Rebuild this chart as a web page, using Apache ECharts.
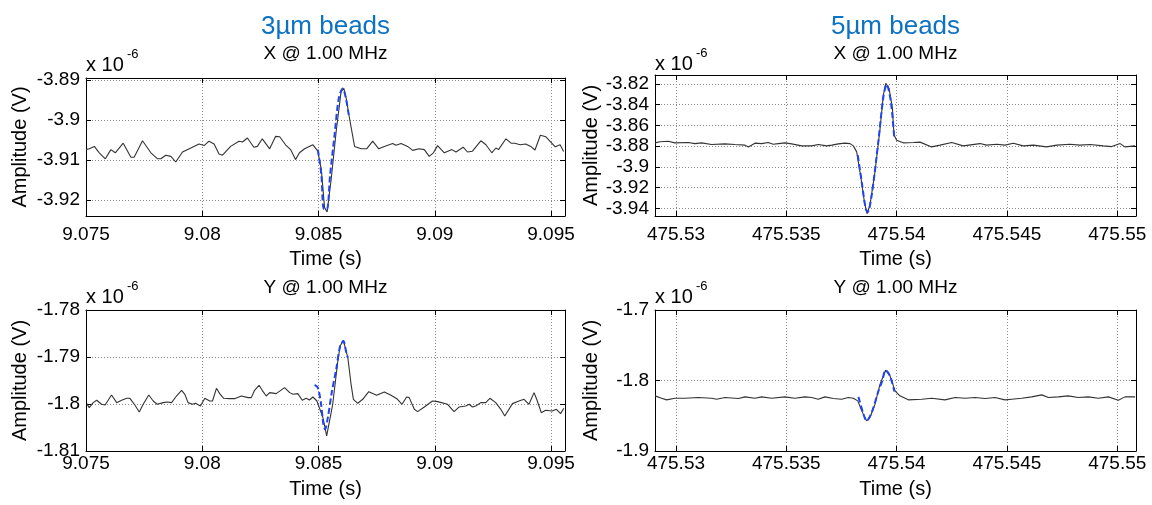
<!DOCTYPE html>
<html>
<head>
<meta charset="utf-8">
<script src="https://cdn.jsdelivr.net/npm/echarts@6/dist/echarts.min.js"></script>
<style>html,body{margin:0;padding:0;background:#fff;}#c{width:1152px;height:505px;}</style>
</head>
<body>
<div id="c"></div>
<script>
// ---- tick labels ----
const xTicks3um = [9.075, 9.08, 9.085, 9.09, 9.095];
const xTicks5um = [475.53, 475.535, 475.54, 475.545, 475.55];
const yTicksX3um = [-3.92, -3.91, -3.9, -3.89];
const yTicksX5um = [-3.94, -3.92, -3.9, -3.88, -3.86, -3.84, -3.82];
const yTicksY3um = [-1.81, -1.8, -1.79, -1.78];
const yTicksY5um = [-1.9, -1.8, -1.7];

// ---- data (amplitude in units of 1e-6 V, time in s) ----
const x3umSignal = [[9.0750,-3.9074],[9.07514,-3.9072],[9.07536,-3.9066],[9.07557,-3.9082],[9.07583,-3.9097],[9.07607,-3.9074],[9.07626,-3.9082],[9.07660,-3.9058],[9.07693,-3.9093],[9.07707,-3.9093],[9.07743,-3.9052],[9.07779,-3.9082],[9.07808,-3.9097],[9.07822,-3.9097],[9.07843,-3.9088],[9.07865,-3.9091],[9.07886,-3.9105],[9.07915,-3.9080],[9.07951,-3.9070],[9.07986,-3.9060],[9.08008,-3.9064],[9.08029,-3.9053],[9.08051,-3.9060],[9.08072,-3.9085],[9.08087,-3.9088],[9.08122,-3.9066],[9.08158,-3.9053],[9.08173,-3.9055],[9.08194,-3.9045],[9.08222,-3.9068],[9.08237,-3.9066],[9.08258,-3.9047],[9.08290,-3.9072],[9.08315,-3.9041],[9.08333,-3.9042],[9.08358,-3.9062],[9.08380,-3.9074],[9.08401,-3.9099],[9.08418,-3.9082],[9.08440,-3.9072],[9.08476,-3.9062],[9.08497,-3.9078],[9.08512,-3.9124],[9.08526,-3.9219],[9.08537,-3.9230],[9.08555,-3.9145],[9.08576,-3.9028],[9.08597,-3.8929],[9.08609,-3.8921],[9.08619,-3.8946],[9.08633,-3.8995],[9.08655,-3.9066],[9.08683,-3.9072],[9.08707,-3.9072],[9.08733,-3.9053],[9.08759,-3.9072],[9.08783,-3.9066],[9.08819,-3.9059],[9.08833,-3.9063],[9.08855,-3.9059],[9.08883,-3.9066],[9.08905,-3.9076],[9.08933,-3.9072],[9.08955,-3.9074],[9.08976,-3.9091],[9.08994,-3.9082],[9.09012,-3.9064],[9.09041,-3.9082],[9.09074,-3.9074],[9.09091,-3.9080],[9.09122,-3.9068],[9.09141,-3.9080],[9.09162,-3.9078],[9.09198,-3.9052],[9.09220,-3.9062],[9.09245,-3.9082],[9.09263,-3.9070],[9.09274,-3.9074],[9.09306,-3.9047],[9.09328,-3.9058],[9.09344,-3.9058],[9.09367,-3.9062],[9.09391,-3.9060],[9.09415,-3.9067],[9.09431,-3.9075],[9.09454,-3.9038],[9.09478,-3.9042],[9.09497,-3.9054],[9.09518,-3.9067],[9.09539,-3.9062],[9.09554,-3.9079]];
const x3umFit = [[9.08497,-3.9074],[9.08512,-3.9136],[9.08523,-3.9223],[9.08536,-3.9223],[9.08550,-3.9136],[9.08569,-3.9037],[9.08587,-3.8946],[9.08604,-3.8921],[9.08616,-3.8941],[9.08630,-3.8987]];

const x5umSignal = [[475.52905,-3.8768],[475.52927,-3.8758],[475.52965,-3.8752],[475.52995,-3.8768],[475.53056,-3.8765],[475.53086,-3.8775],[475.53116,-3.8768],[475.53162,-3.8784],[475.53222,-3.8778],[475.53267,-3.8784],[475.53313,-3.8790],[475.53328,-3.8807],[475.53358,-3.8771],[475.53388,-3.8775],[475.53418,-3.8765],[475.53441,-3.8781],[475.53464,-3.8775],[475.53494,-3.8768],[475.53524,-3.8778],[475.53570,-3.8797],[475.53615,-3.8797],[475.53645,-3.8784],[475.53683,-3.8797],[475.53706,-3.8790],[475.53736,-3.8778],[475.53766,-3.8771],[475.53789,-3.8775],[475.53804,-3.8797],[475.53819,-3.8855],[475.53839,-3.9114],[475.53854,-3.9339],[475.53866,-3.9452],[475.53879,-3.9371],[475.53902,-3.9049],[475.53925,-3.8630],[475.53940,-3.8306],[475.53951,-3.8194],[475.53966,-3.8243],[475.53981,-3.8436],[475.53988,-3.8690],[475.54000,-3.8742],[475.54030,-3.8768],[475.54076,-3.8765],[475.54106,-3.8761],[475.54159,-3.8807],[475.54197,-3.8790],[475.54250,-3.8765],[475.54302,-3.8797],[475.54378,-3.8775],[475.54408,-3.8790],[475.54454,-3.8781],[475.54491,-3.8790],[475.54529,-3.8771],[475.54574,-3.8797],[475.54620,-3.8790],[475.54680,-3.8807],[475.54726,-3.8790],[475.54786,-3.8781],[475.54831,-3.8790],[475.54877,-3.8784],[475.54937,-3.8797],[475.54975,-3.8804],[475.55013,-3.8775],[475.55035,-3.8807],[475.55081,-3.8797]];
const x5umFit = [[475.53824,-3.8887],[475.53842,-3.9146],[475.53860,-3.9404],[475.53869,-3.9436],[475.53887,-3.9274],[475.53917,-3.8758],[475.53940,-3.8323],[475.53955,-3.8204],[475.53974,-3.8371],[475.53989,-3.8710]];

const y3umSignal = [[9.07503,-1.79992],[9.07514,-1.80077],[9.07531,-1.79971],[9.07546,-1.79921],[9.07567,-1.80006],[9.07582,-1.80021],[9.07610,-1.79809],[9.07632,-1.79971],[9.07653,-1.79921],[9.07675,-1.79879],[9.07689,-1.79879],[9.07710,-1.80021],[9.07729,-1.80170],[9.07746,-1.80006],[9.07770,-1.79809],[9.07789,-1.79936],[9.07806,-1.80006],[9.07832,-1.79971],[9.07849,-1.79957],[9.07868,-1.79971],[9.07889,-1.79830],[9.07911,-1.79709],[9.07925,-1.79794],[9.07939,-1.79971],[9.07958,-1.80006],[9.07971,-1.79985],[9.07992,-1.80043],[9.08011,-1.79879],[9.08032,-1.79936],[9.08044,-1.79936],[9.08061,-1.79666],[9.08075,-1.79779],[9.08092,-1.79879],[9.08118,-1.79886],[9.08139,-1.79886],[9.08168,-1.79830],[9.08197,-1.79864],[9.08211,-1.79864],[9.08225,-1.79709],[9.08244,-1.79602],[9.08258,-1.79709],[9.08275,-1.79830],[9.08290,-1.79758],[9.08318,-1.79779],[9.08354,-1.79651],[9.08376,-1.79758],[9.08390,-1.79794],[9.08411,-1.79779],[9.08430,-1.79921],[9.08447,-1.79879],[9.08461,-1.79915],[9.08476,-1.79851],[9.08493,-1.79936],[9.08519,-1.80290],[9.08535,-1.80680],[9.08561,-1.80006],[9.08583,-1.79084],[9.08593,-1.78765],[9.08607,-1.78645],[9.08626,-1.79013],[9.08640,-1.79581],[9.08650,-1.79900],[9.08669,-1.79985],[9.08690,-1.79900],[9.08716,-1.79737],[9.08750,-1.79815],[9.08783,-1.79744],[9.08812,-1.79815],[9.08840,-1.79900],[9.08859,-1.80006],[9.08879,-1.79850],[9.08890,-1.79864],[9.08912,-1.80113],[9.08926,-1.80162],[9.08955,-1.80063],[9.08990,-1.79936],[9.09012,-1.79950],[9.09055,-1.80006],[9.09083,-1.80162],[9.09105,-1.80063],[9.09133,-1.80043],[9.09148,-1.80006],[9.09162,-1.80063],[9.09176,-1.80043],[9.09198,-1.79971],[9.09219,-1.79971],[9.09237,-1.79879],[9.09262,-1.79971],[9.09284,-1.80113],[9.09301,-1.80255],[9.09334,-1.79992],[9.09362,-1.79936],[9.09384,-1.79900],[9.09405,-1.80006],[9.09427,-1.79758],[9.09441,-1.79936],[9.09458,-1.80184],[9.09477,-1.80134],[9.09505,-1.80148],[9.09523,-1.80113],[9.09541,-1.80205],[9.09555,-1.80092]];
const y3umFit = [[9.08483,-1.79595],[9.08497,-1.79651],[9.08511,-1.80006],[9.08520,-1.80400],[9.08528,-1.80540],[9.08540,-1.80290],[9.08558,-1.79723],[9.08576,-1.79262],[9.08593,-1.78765],[9.08607,-1.78659],[9.08618,-1.78872],[9.08626,-1.79013]];

const y5umSignal = [[475.52905,-1.82180],[475.52935,-1.82511],[475.52958,-1.82747],[475.52995,-1.82511],[475.53041,-1.82511],[475.53101,-1.82416],[475.53162,-1.82511],[475.53184,-1.82652],[475.53222,-1.82416],[475.53283,-1.82558],[475.53313,-1.82322],[475.53358,-1.82511],[475.53388,-1.82322],[475.53434,-1.82511],[475.53494,-1.82322],[475.53539,-1.82511],[475.53585,-1.82322],[475.53615,-1.82416],[475.53645,-1.82652],[475.53675,-1.82322],[475.53713,-1.82558],[475.53751,-1.82652],[475.53781,-1.82416],[475.53804,-1.82511],[475.53824,-1.82889],[475.53842,-1.84308],[475.53864,-1.85726],[475.53879,-1.85253],[475.53902,-1.83362],[475.53925,-1.80525],[475.53950,-1.78539],[475.53970,-1.79343],[475.53993,-1.81470],[475.54015,-1.82180],[475.54053,-1.82747],[475.54114,-1.82652],[475.54159,-1.82511],[475.54219,-1.82747],[475.54265,-1.82416],[475.54310,-1.82511],[475.54355,-1.82416],[475.54401,-1.82558],[475.54446,-1.82416],[475.54491,-1.82747],[475.54522,-1.82652],[475.54567,-1.82511],[475.54612,-1.82322],[475.54658,-1.82038],[475.54688,-1.82416],[475.54733,-1.82322],[475.54778,-1.82180],[475.54823,-1.82416],[475.54869,-1.82322],[475.54914,-1.82511],[475.54960,-1.82322],[475.55005,-1.82794],[475.55035,-1.82322],[475.55081,-1.82322]];
const y5umFit = [[475.53827,-1.82322],[475.53850,-1.84780],[475.53864,-1.85726],[475.53887,-1.84544],[475.53917,-1.81565],[475.53935,-1.80052],[475.53950,-1.78539],[475.53970,-1.79343],[475.53990,-1.81565]];

// ---- styling / layout ----
const FONT = '"Liberation Sans", Arial, sans-serif';
const fmt = v => String(parseFloat(Number(v).toFixed(4)));
const panels = [
  {grid:{left:86, top:78, width:479, height:138}, x:[9.075, 9.0956], xt:xTicks3um, y:[-3.9240,-3.8895], yt:yTicksX3um, lm:9, ng:33, yng:56, sig:x3umSignal, fit:x3umFit},
  {grid:{left:655, top:75, width:481, height:141}, x:[475.52905, 475.55085], xt:xTicks5um, y:[-3.9474,-3.8113], yt:yTicksX5um, lm:9, ng:33, yng:54, sig:x5umSignal, fit:x5umFit},
  {grid:{left:86, top:310, width:479, height:141}, x:[9.075, 9.0956], xt:xTicks3um, y:[-1.81,-1.78], yt:yTicksY3um, lm:3, ng:28, yng:56, sig:y3umSignal, fit:y3umFit},
  {grid:{left:655, top:310, width:481, height:141}, x:[475.52905, 475.55085], xt:xTicks5um, y:[-1.9,-1.7], yt:yTicksY5um, lm:3, ng:28, yng:54, sig:y5umSignal, fit:y5umFit}
];

const grids = [], xAxes = [], yAxes = [], series = [];
const lineBlack = {color:'#000', width:1};
const split = {show:true, lineStyle:{color:'#8a8a8a', width:1, type:[1,2]}};
panels.forEach((p, i) => {
  grids.push(Object.assign({containLabel:false}, p.grid));
  xAxes.push({type:'value', gridIndex:i, min:p.x[0], max:p.x[1], position:'bottom',
    axisLine:{show:true, onZero:false, lineStyle:lineBlack},
    axisTick:{show:true, inside:true, length:5, customValues:p.xt, lineStyle:lineBlack},
    axisLabel:{show:true, customValues:p.xt, formatter:fmt, color:'#000', fontSize:19, fontFamily:FONT, margin:p.lm},
    splitLine:split,
    name:'Time (s)', nameLocation:'middle', nameGap:p.ng,
    nameTextStyle:{color:'#000', fontSize:20, fontFamily:FONT}});
  xAxes.push({type:'value', gridIndex:i, min:p.x[0], max:p.x[1], position:'top',
    axisLine:{show:true, onZero:false, lineStyle:lineBlack},
    axisTick:{show:true, inside:true, length:5, customValues:p.xt, lineStyle:lineBlack},
    axisLabel:{show:false}, splitLine:{show:false}});
  yAxes.push({type:'value', gridIndex:i, min:p.y[0], max:p.y[1], position:'left',
    axisLine:{show:true, onZero:false, lineStyle:lineBlack},
    axisTick:{show:true, inside:true, length:5, customValues:p.yt, lineStyle:lineBlack},
    axisLabel:{show:true, customValues:p.yt, formatter:fmt, color:'#000', fontSize:19, fontFamily:FONT, margin:6},
    splitLine:split,
    name:'Amplitude (V)', nameLocation:'middle', nameGap:p.yng, nameRotate:90,
    nameTextStyle:{color:'#000', fontSize:20, fontFamily:FONT}});
  yAxes.push({type:'value', gridIndex:i, min:p.y[0], max:p.y[1], position:'right',
    axisLine:{show:true, onZero:false, lineStyle:lineBlack},
    axisTick:{show:true, inside:true, length:5, customValues:p.yt, lineStyle:lineBlack},
    axisLabel:{show:false}, splitLine:{show:false}});
  series.push({type:'line', xAxisIndex:2*i, yAxisIndex:2*i, data:p.sig, showSymbol:false, symbol:'none',
    lineStyle:{color:'#333', width:1.1}, z:3});
  series.push({type:'line', xAxisIndex:2*i, yAxisIndex:2*i, data:p.fit, showSymbol:false, symbol:'none', smooth:0.3,
    lineStyle:{color:'#1f44ee', width:2, type:[6,3]}, z:4});
});

function txt(x, y, s, size, color, align) {
  return {type:'text', x:x, y:y, z:10, style:{text:s, fill:color||'#000', fontSize:size, fontFamily:FONT,
    textAlign:align||'center', textVerticalAlign:'middle', align:align||'center', verticalAlign:'middle'}};
}
const graphics = [
  txt(325.5, 27, '3µm beads', 26, '#0c72c4'),
  txt(895.5, 27, '5µm beads', 26, '#0c72c4'),
  txt(325.5, 54, 'X @ 1.00 MHz', 19),
  txt(895.5, 54, 'X @ 1.00 MHz', 19),
  txt(325.5, 288, 'Y @ 1.00 MHz', 19),
  txt(895.5, 288, 'Y @ 1.00 MHz', 19),
  txt(86, 65, 'x 10', 20, '#000', 'left'),
  txt(127, 54, '-6', 13, '#000', 'left'),
  txt(655, 64, 'x 10', 20, '#000', 'left'),
  txt(696, 53, '-6', 13, '#000', 'left'),
  txt(86, 297, 'x 10', 20, '#000', 'left'),
  txt(127, 286, '-6', 13, '#000', 'left'),
  txt(655, 297, 'x 10', 20, '#000', 'left'),
  txt(696, 286, '-6', 13, '#000', 'left')
];

const chart = echarts.init(document.getElementById('c'), null, {renderer:'canvas'});
chart.setOption({animation:false, backgroundColor:'#fff', grid:grids, xAxis:xAxes, yAxis:yAxes, series:series, graphic:graphics});
</script>
</body>
</html>
